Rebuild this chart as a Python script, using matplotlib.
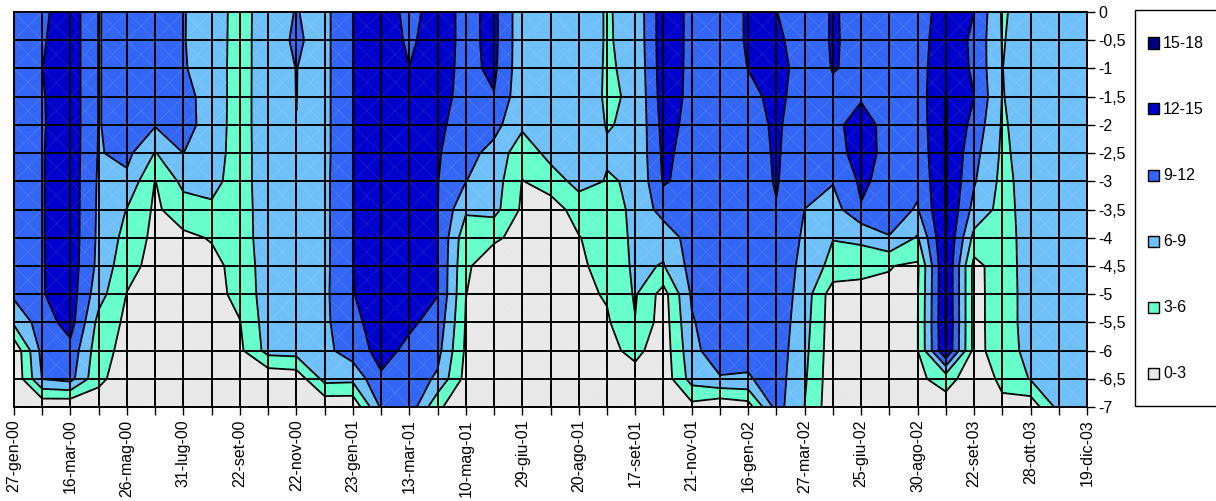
import numpy as np
import matplotlib.pyplot as plt
from matplotlib.collections import LineCollection
from matplotlib.patches import Rectangle

plt.rcParams['font.family'] = ['Liberation Sans', 'DejaVu Sans']

# tick labels of the date axis (every second sampling date is labelled)
date_labels = ["27-gen-00", "16-mar-00", "26-mag-00", "31-lug-00", "22-set-00",
               "22-nov-00", "23-gen-01", "13-mar-01", "10-mag-01", "29-giu-01",
               "20-ago-01", "17-set-01", "21-nov-01", "16-gen-02", "27-mar-02",
               "25-giu-02", "30-ago-02", "22-set-03", "28-ott-03", "19-dic-03"]

depths = [0, -0.5, -1, -1.5, -2, -2.5, -3, -3.5, -4, -4.5, -5, -5.5, -6, -6.5, -7]
depth_labels = ["0", "-0,5", "-1", "-1,5", "-2", "-2,5", "-3", "-3,5", "-4",
                "-4,5", "-5", "-5,5", "-6", "-6,5", "-7"]

band_levels = [0, 3, 6, 9, 12, 15, 18]
band_labels = ["0-3", "3-6", "6-9", "9-12", "12-15", "15-18"]
band_colors = ["#e8e8e8", "#66ffcc", "#6fbff9", "#3366f5", "#0000cc", "#000080"]

# one profile per sampling date, from the surface (0) down to -7
profiles = [
    [10.5, 10.6, 10.7, 10.8, 10.8, 10.8, 10.8, 10.7, 10.6, 10.3, 9.6, 6.6, 0.6, 0.4, 0.3],
    [11.4, 11.7, 11.98, 11.8, 11.75, 11.85, 11.85, 11.85, 11.85, 11.85, 11.83, 10.5, 10.0, 9.1, 0.4],
    [13.7, 13.7, 13.7, 13.7, 13.7, 13.7, 13.7, 13.7, 13.7, 13.6, 13.5, 13.3, 11.0, 10.0, 0.1],
    [8.9, 8.9, 8.9, 8.9, 8.9, 8.8, 8.6, 8.5, 8.4, 8.2, 7.2, 5.0, 4.2, 3.6, 1.6],
    [10.0, 10.0, 10.0, 10.0, 10.0, 9.8, 8.3, 5.9, 5.0, 4.0, 2.9, 2.4, 2.0, 1.5, 1.0],
    [10.2, 10.2, 10.2, 10.1, 9.24, 5.84, 2.9, 2.5, 2.2, 2.0, 1.8, 1.6, 1.4, 1.2, 1.0],
    [9.1, 9.1, 9.2, 10.0, 10.2, 9.02, 6.85, 4.6, 2.4, 2.2, 2.0, 1.8, 1.6, 1.4, 1.2],
    [8.0, 7.9, 7.8, 7.7, 7.6, 7.4, 6.9, 5.5, 3.2, 2.2, 2.0, 1.8, 1.6, 1.4, 1.2],
    [4.5, 4.5, 4.5, 4.6, 4.6, 4.6, 4.6, 4.5, 4.4, 4.0, 3.8, 2.9, 2.4, 1.6, 1.3],
    [8.0, 8.1, 8.1, 8.0, 8.0, 7.9, 7.9, 7.8, 7.8, 7.7, 7.6, 7.5, 7.1, 0.5, 0.3],
    [9.1, 9.3, 9.03, 9.02, 8.98, 8.5, 8.3, 8.2, 8.1, 8.0, 8.0, 7.8, 7.3, 1.0, 0.3],
    [8.2, 8.2, 8.2, 8.2, 8.2, 8.2, 8.3, 8.3, 8.3, 8.3, 8.4, 8.4, 8.2, 7.0, 0.5],
    [11.97, 11.97, 11.97, 11.97, 11.97, 11.97, 11.97, 11.97, 11.97, 11.97, 11.9, 11.3, 10.5, 6.8, 0.5],
    [13.9, 13.8, 13.7, 13.6, 13.6, 13.6, 13.6, 13.6, 13.6, 13.5, 13.5, 13.3, 13.0, 11.6, 9.5],
    [11.0, 11.5, 12.05, 13.0, 13.3, 13.4, 13.5, 13.5, 13.5, 13.4, 13.2, 12.5, 11.3, 10.8, 11.0],
    [13.4, 13.4, 13.2, 13.0, 12.6, 12.3, 12.1, 12.1, 12.1, 12.1, 12.1, 11.0, 10.0, 8.5, 3.5],
    [11.2, 11.2, 11.2, 11.1, 10.7, 10.0, 9.05, 6.5, 4.0, 3.4, 3.05, 2.8, 2.5, 2.0, 1.0],
    [12.8, 12.8, 12.6, 11.85, 9.95, 8.05, 7.5, 7.0, 3.4, 1.5, 1.4, 1.3, 1.2, 1.1, 1.0],
    [7.0, 7.0, 7.0, 6.9, 6.6, 4.1, 2.9, 2.5, 2.2, 2.0, 1.8, 1.6, 1.4, 1.2, 1.0],
    [7.3, 7.3, 7.3, 7.2, 7.1, 7.0, 4.5, 1.5, 1.3, 1.2, 1.1, 1.0, 1.0, 0.9, 0.9],
    [7.4, 7.4, 7.4, 7.4, 7.3, 7.2, 7.0, 4.3, 2.85, 2.5, 2.2, 2.0, 1.8, 1.6, 1.5],
    [5.8, 5.8, 5.75, 5.7, 5.9, 6.23, 5.85, 5.2, 4.6, 4.0, 3.3, 2.6, 2.2, 1.8, 1.5],
    [6.8, 6.7, 6.5, 6.3, 6.3, 6.4, 6.2, 6.4, 6.5, 6.5, 6.3, 5.9, 3.8, 1.8, 1.2],
    [13.8, 13.8, 13.7, 13.5, 13.0, 12.6, 12.3, 10.4, 6.9, 5.84, 1.78, 1.5, 1.3, 1.1, 1.0],
    [11.3, 11.3, 11.3, 11.3, 11.2, 11.0, 11.0, 10.8, 10.5, 10.0, 9.4, 8.7, 8.0, 7.2, 2.0],
    [10.5, 10.5, 10.6, 10.7, 10.8, 10.8, 10.8, 10.8, 10.9, 11.0, 11.0, 11.0, 11.0, 8.7, 0.5],
    [12.3, 12.3, 12.05, 11.3, 11.0, 10.8, 10.7, 10.6, 10.5, 10.4, 10.3, 10.2, 10.0, 8.7, 1.5],
    [12.05, 12.5, 13.0, 12.7, 12.4, 12.3, 12.2, 11.85, 11.5, 11.2, 11.0, 10.8, 10.6, 10.4, 10.2],
    [10.7, 10.8, 10.8, 10.7, 10.5, 10.3, 10.0, 8.98, 8.5, 8.0, 7.6, 7.2, 6.8, 6.4, 5.95],
    [12.2, 12.2, 12.1, 11.5, 11.5, 11.0, 9.2, 7.6, 6.1, 5.1, 1.4, 1.3, 1.2, 1.1, 1.0],
    [11.3, 11.4, 11.6, 11.8, 12.8, 13.0, 12.5, 11.8, 6.2, 5.43, 0.3, 0.3, 0.3, 0.3, 0.3],
    [11.2, 11.2, 11.3, 11.3, 11.3, 11.2, 11.0, 10.0, 8.9, 3.1, 2.6, 2.4, 2.2, 2.0, 1.8],
    [10.5, 10.6, 10.5, 10.5, 10.3, 10.0, 9.5, 8.79, 5.69, 2.52, 2.8, 2.9, 2.9, 2.5, 1.0],
    [13.5, 14.0, 14.7, 15.1, 15.2, 15.2, 15.2, 15.2, 15.2, 15.2, 15.2, 15.3, 15.05, 4.0, 1.8],
    [12.0, 11.4, 11.4, 12.05, 11.0, 10.0, 9.3, 8.0, 5.1, 2.0, 2.0, 2.0, 2.0, 1.5, 1.0],
    [5.7, 5.85, 5.97, 5.9, 5.7, 5.5, 5.2, 5.0, 4.8, 4.7, 4.6, 4.6, 4.5, 3.5, 2.5],
    [7.2, 7.2, 7.2, 7.2, 7.2, 7.2, 7.2, 7.2, 7.2, 7.2, 7.2, 7.2, 7.0, 6.2, 1.0],
    [7.3, 7.3, 7.3, 7.3, 7.3, 7.3, 7.3, 7.3, 7.3, 7.3, 7.3, 7.3, 7.3, 7.3, 7.0],
    [7.4, 7.4, 7.4, 7.4, 7.4, 7.4, 7.4, 7.4, 7.4, 7.4, 7.4, 7.4, 7.4, 7.4, 7.4],
]

W, H = 1216, 501
FS = 11.5

temp = np.array(profiles).T          # rows = depth, cols = date
n_dates = temp.shape[1]
x = np.arange(n_dates)

fig = plt.figure(figsize=(W / 100, H / 100), dpi=100)
ax = fig.add_axes([14 / W, 1 - 407 / H, (1087 - 14) / W, (407 - 12) / H])

# -------- bands + contour lines --------
ax.contourf(x, depths, temp, levels=band_levels, colors=band_colors, zorder=1)
ax.contour(x, depths, temp, levels=band_levels[1:-1], colors="black",
           linewidths=1.3, zorder=2)

# very faint diagonal wireframe inside every cell
segs = []
for i in range(n_dates - 1):
    for j in range(len(depths) - 1):
        segs.append([(x[i], depths[j]), (x[i + 1], depths[j + 1])])
        segs.append([(x[i], depths[j + 1]), (x[i + 1], depths[j])])
ax.add_collection(LineCollection(segs, colors="white", linewidths=0.5,
                                 alpha=0.13, zorder=2.2))

ax.set_xlim(0, n_dates - 1)
ax.set_ylim(-7, 0)

# -------- grid / ticks --------
tick_labels = [date_labels[i // 2] if i % 2 == 0 else "" for i in range(n_dates)]
ax.set_xticks(x, tick_labels)
ax.set_yticks(depths, depth_labels)
ax.grid(True, color="black", linewidth=1.4)
ax.set_axisbelow(False)

ax.yaxis.tick_right()
ax.tick_params(axis="y", direction="out", length=6, width=1, pad=2, labelsize=FS)
ax.tick_params(axis="x", direction="out", length=6, width=1, pad=3, labelsize=FS,
               labelrotation=90)
for s in ax.spines.values():
    s.set_linewidth(1.4)

# -------- legend (box runs off the right edge) --------
fig.patches.append(Rectangle((1135 / W, 1 - 406 / H), 100 / W, 396 / H,
                             transform=fig.transFigure, fill=False,
                             edgecolor="black", linewidth=1))
for k, (lab, col) in enumerate(zip(band_labels[::-1], band_colors[::-1])):
    yc = 43 + k * 66
    fig.patches.append(Rectangle((1148 / W, 1 - (yc + 5.5) / H), 11 / W, 11 / H,
                                 transform=fig.transFigure, facecolor=col,
                                 edgecolor="black", linewidth=1))
    fig.text(1163 / W, 1 - yc / H, lab, fontsize=FS, va="center", ha="left")

fig.savefig("out.png", dpi=100)
